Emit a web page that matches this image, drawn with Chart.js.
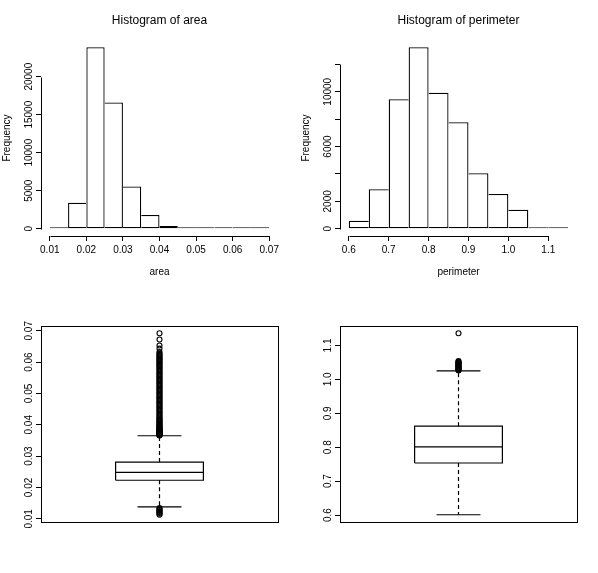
<!DOCTYPE html>
<html><head><meta charset="utf-8">
<script src="https://cdn.jsdelivr.net/npm/chart.js@4/dist/chart.umd.min.js"></script>
<style>
html,body{margin:0;padding:0;background:#fff;}
#wrap{position:relative;width:598px;height:573px;overflow:hidden;background:#fff;}
canvas{position:absolute;}
</style></head><body>
<div id="wrap">
<canvas id="c1" width="299" height="287" style="left:0;top:0"></canvas>
<canvas id="c2" width="299" height="287" style="left:299px;top:0"></canvas>
<canvas id="c3" width="299" height="286" style="left:0;top:287px"></canvas>
<canvas id="c4" width="299" height="286" style="left:299px;top:287px"></canvas>
</div>
<script>
// ---------- data ----------
const AREA_BREAKS = [0.010,0.015,0.020,0.025,0.030,0.035,0.040,0.045,0.050,0.055,0.060,0.065,0.070];
const AREA_COUNTS = [60,3430,23870,16600,5550,1800,350,90,35,15,8,4];
const AREA_X_TICKS = [0.01,0.02,0.03,0.04,0.05,0.06,0.07];
const AREA_X_LABELS = ['0.01','0.02','0.03','0.04','0.05','0.06','0.07'];
const AREA_Y_TICKS = [0,5000,10000,15000,20000];
const AREA_Y_LABELS = ['0','5000','10000','15000','20000'];

const PERIM_BREAKS = [0.60,0.65,0.70,0.75,0.80,0.85,0.90,0.95,1.00,1.05,1.10,1.15];
const PERIM_COUNTS = [590,2880,9460,13250,9930,7780,4060,2540,1390,20,1];
const PERIM_X_TICKS = [0.6,0.7,0.8,0.9,1.0,1.1];
const PERIM_X_LABELS = ['0.6','0.7','0.8','0.9','1.0','1.1'];
const PERIM_Y_TICKS = [0,2000,4000,6000,8000,10000,12000];
const PERIM_Y_LABELS = ['0','2000','','6000','','10000',''];

// boxplot stats: [lower whisker, Q1, median, Q3, upper whisker]
const AREA_STATS = [0.0138,0.0223,0.0248,0.0281,0.0365];
const AREA_OUTLIERS_LOW = [0.0113,0.0116,0.0119,0.0122,0.0125,0.0128,0.0131,0.0134];
const AREA_OUTLIERS_HIGH = [0.0366,0.0367,0.0368,0.0369,0.0370,0.0371,0.0372,0.0373,0.0374,0.0375,0.0376,0.0377,0.0378,0.0379,0.0380,0.0381,0.0383,0.0385,0.0387,0.0389,0.0391,0.0393,0.0395,0.0397,0.0399,0.0402,0.0405,0.0408,0.0411,0.0414,0.0417,0.0420,0.0423,0.0427,0.0431,0.0435,0.0439,0.0443,0.0447,0.0451,0.0455,0.0459,0.0463,0.0467,0.0471,0.0475,0.0479,0.0483,0.0487,0.0491,0.0495,0.0499,0.0503,0.0507,0.0511,0.0515,0.0519,0.0523,0.0527,0.0531,0.0535,0.0539,0.0543,0.0547,0.0551,0.0555,0.0559,0.0563,0.0567,0.0571,0.0575,0.0579,0.0583,0.0587,0.0591,0.0595,0.0599,0.0603,0.0607,0.0611,0.0615,0.0619,0.0623,0.0627,0.0632,0.0643,0.0653,0.0672,0.0692];
const AREA_BOX_TICKS = [0.01,0.02,0.03,0.04,0.05,0.06,0.07];
const AREA_BOX_LABELS = ['0.01','0.02','0.03','0.04','0.05','0.06','0.07'];

const PERIM_STATS = [0.601,0.7535,0.801,0.862,1.025];
const PERIM_OUTLIERS = [1.026,1.028,1.030,1.032,1.034,1.036,1.038,1.040,1.042,1.044,1.046,1.048,1.050,1.052,1.054,1.136];
const PERIM_BOX_TICKS = [0.6,0.7,0.8,0.9,1.0,1.1];
const PERIM_BOX_LABELS = ['0.6','0.7','0.8','0.9','1.0','1.1'];

// ---------- style / layout ----------
const FAMILY = '"Liberation Sans", Arial, Helvetica, sans-serif';
Chart.defaults.font.family = FAMILY;
Chart.defaults.font.size = 10;
Chart.defaults.color = '#000';
const TICK_LEN = 5;
const Y_AXIS_W = 41;
const RIGHT_PAD = 21;
const YLAB_GAP = 11.6;   // distance from axis to centre of y tick labels
const BOX_HALF = 0.2, CAP_HALF = 0.1;
const BAR_LINE = 1.3;

const mctx = document.createElement('canvas').getContext('2d');
function yTickPad(labels){
  mctx.font = '10px ' + FAMILY;
  const w = Math.max(...labels.map(l => mctx.measureText(l).width));
  return YLAB_GAP - TICK_LEN - w / 2;
}

// R-style axis lines (from first to last tick) and optional frame
const rAxes = {
  id: 'rAxes',
  afterDraw(chart, args, opts) {
    const ctx = chart.ctx, a = chart.chartArea;
    ctx.save();
    ctx.strokeStyle = '#000';
    ctx.lineWidth = 1;
    if (opts.frame) {
      ctx.strokeRect(Math.round(a.left) + 0.5, Math.round(a.top) + 0.5,
        Math.round(a.right) - Math.round(a.left), Math.round(a.bottom) - Math.round(a.top));
    }
    ['x', 'y'].forEach(id => {
      const s = chart.scales[id];
      if (!s || !s.options.display || !s.ticks.length) return;
      const p0 = s.getPixelForValue(s.ticks[0].value);
      const p1 = s.getPixelForValue(s.ticks[s.ticks.length - 1].value);
      ctx.beginPath();
      if (id === 'x') {
        const y = Math.round(a.bottom) + 0.5;
        ctx.moveTo(Math.round(p0) + 0.5, y); ctx.lineTo(Math.round(p1) + 0.5, y);
      } else {
        const x = Math.round(a.left) + 0.5;
        ctx.moveTo(x, Math.round(p0) + 0.5); ctx.lineTo(x, Math.round(p1) + 0.5);
      }
      ctx.stroke();
    });
    ctx.restore();
  }
};

function yScale(ticks, labels, min, max, title) {
  return {
    type: 'linear', min, max, bounds: 'data',
    afterBuildTicks: s => { s.ticks = ticks.map(v => ({ value: v })); },
    afterFit: s => { s.width = Y_AXIS_W; },
    ticks: { callback: (v, i) => labels[i], autoSkip: false, minRotation: 90, maxRotation: 90,
      crossAlign: 'center', padding: yTickPad(labels), font: { size: 10 }, color: '#000' },
    grid: { display: true, drawOnChartArea: false, drawTicks: true, tickLength: TICK_LEN, color: '#000', lineWidth: 1 },
    border: { display: false },
    title: title ? { display: true, text: title, font: { size: 10 }, color: '#000', padding: { top: 1.3, bottom: 0 } } : { display: false }
  };
}

function histogram(id, title, xTitle, breaks, counts, xTicks, xLabels, yTicks, yLabels) {
  const pts = counts.map((c, i) => ({ x: (breaks[i] + breaks[i + 1]) / 2, y: c }));
  const b0 = breaks[0], bN = breaks[breaks.length - 1], ext = 0.04 * (bN - b0);
  const maxC = Math.max(...counts);
  const last = counts.length - 1;
  const edge = ctx => {
    const i = ctx.dataIndex;
    return {
      top: BAR_LINE, bottom: BAR_LINE,
      left: (i === 0 || counts[i - 1] < counts[i]) ? BAR_LINE : 0,
      right: (i === last || counts[i + 1] <= counts[i]) ? BAR_LINE : 0
    };
  };
  const canvas = document.getElementById(id);
  return new Chart(canvas, {
    type: 'bar',
    data: { datasets: [{ data: pts, backgroundColor: '#fff', borderColor: '#000', borderWidth: edge,
      borderSkipped: false, barPercentage: 1, categoryPercentage: 1, minBarLength: 1.6, inflateAmount: 0 }] },
    options: {
      responsive: false, animation: false, events: [],
      layout: { padding: { left: 0, right: RIGHT_PAD, top: 0, bottom: 0 } },
      plugins: {
        legend: { display: false }, tooltip: { enabled: false },
        title: { display: true, text: title, fullSize: false, color: '#000',
          font: { size: 12, weight: 'normal' }, padding: { top: 13.5, bottom: 12.1 } },
        rAxes: { frame: false }
      },
      scales: {
        x: {
          type: 'linear', offset: false, bounds: 'data', min: b0 - ext, max: bN + ext,
          afterBuildTicks: s => { s.ticks = xTicks.map(v => ({ value: v })); },
          afterFit: s => { s.height = canvas.height - 236; },
          ticks: { callback: (v, i) => xLabels[i], autoSkip: false, minRotation: 0, maxRotation: 0,
            padding: 3.7, font: { size: 10 }, color: '#000' },
          grid: { display: true, offset: false, drawOnChartArea: false, drawTicks: true, tickLength: TICK_LEN, color: '#000', lineWidth: 1 },
          border: { display: false },
          title: { display: true, text: xTitle, font: { size: 10 }, color: '#000', padding: { top: 0, bottom: 8.5 } }
        },
        y: yScale(yTicks, yLabels, -0.04 * maxC, 1.04 * maxC, 'Frequency')
      }
    },
    plugins: [rAxes]
  });
}

function boxplot(id, stats, outliers, yTicks, yLabels) {
  const [lo, q1, med, q3, hi] = stats;
  const all = stats.concat(outliers);
  const dmin = Math.min(...all), dmax = Math.max(...all), r = dmax - dmin;
  const seg = (pts, dash) => ({ data: pts, showLine: true, borderColor: '#000', borderWidth: 1.2,
    borderDash: dash || [], pointRadius: 0, fill: false, tension: 0 });
  const canvas = document.getElementById(id);
  return new Chart(canvas, {
    type: 'scatter',
    data: { datasets: [
      seg([{ x: 1 - BOX_HALF, y: q1 }, { x: 1 + BOX_HALF, y: q1 }, { x: 1 + BOX_HALF, y: q3 }, { x: 1 - BOX_HALF, y: q3 }, { x: 1 - BOX_HALF, y: q1 }]),
      seg([{ x: 1 - BOX_HALF, y: med }, { x: 1 + BOX_HALF, y: med }]),
      seg([{ x: 1, y: q3 }, { x: 1, y: hi }], [4, 3]),
      seg([{ x: 1, y: q1 }, { x: 1, y: lo }], [4, 3]),
      seg([{ x: 1 - CAP_HALF, y: hi }, { x: 1 + CAP_HALF, y: hi }]),
      seg([{ x: 1 - CAP_HALF, y: lo }, { x: 1 + CAP_HALF, y: lo }]),
      { data: outliers.map(v => ({ x: 1, y: v })), showLine: false, pointStyle: 'circle', pointRadius: 2.5,
        pointBorderWidth: 1.1, pointBackgroundColor: 'rgba(0,0,0,0)', pointBorderColor: '#000' }
    ] },
    options: {
      responsive: false, animation: false, events: [],
      layout: { padding: { left: 0, right: RIGHT_PAD, top: 39, bottom: canvas.height - 235 } },
      plugins: { legend: { display: false }, tooltip: { enabled: false }, rAxes: { frame: true } },
      scales: {
        x: { type: 'linear', display: false, min: 0.46, max: 1.54 },
        y: yScale(yTicks, yLabels, dmin - 0.04 * r, dmax + 0.04 * r, null)
      }
    },
    plugins: [rAxes]
  });
}

histogram('c1', 'Histogram of area', 'area', AREA_BREAKS, AREA_COUNTS, AREA_X_TICKS, AREA_X_LABELS, AREA_Y_TICKS, AREA_Y_LABELS);
histogram('c2', 'Histogram of perimeter', 'perimeter', PERIM_BREAKS, PERIM_COUNTS, PERIM_X_TICKS, PERIM_X_LABELS, PERIM_Y_TICKS, PERIM_Y_LABELS);
boxplot('c3', AREA_STATS, AREA_OUTLIERS_LOW.concat(AREA_OUTLIERS_HIGH), AREA_BOX_TICKS, AREA_BOX_LABELS);
boxplot('c4', PERIM_STATS, PERIM_OUTLIERS, PERIM_BOX_TICKS, PERIM_BOX_LABELS);
</script>
</body></html>
